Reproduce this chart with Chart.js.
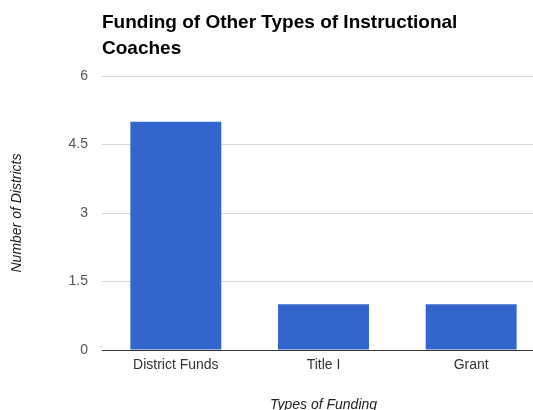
<!DOCTYPE html>
<html>
<head>
<meta charset="UTF-8">
<script src="https://cdn.jsdelivr.net/npm/chart.js@4.4.0/dist/chart.umd.min.js"></script>
<title>Funding of Other Types of Instructional Coaches</title>
<style>
  body { margin: 0; background: #fff; }
  #wrap { width: 533px; height: 410px; overflow: hidden; }
</style>
</head>
<body>
<div id="wrap">
  <canvas id="chart" width="545" height="414"></canvas>
</div>
<script>
  // data
  var categories = ["District Funds", "Title I", "Grant"];
  var districts = [5, 1, 1];
  var yTicks = [0, 1.5, 3, 4.5, 6];

  var font = "Arial, 'Liberation Sans', sans-serif";

  var ctx = document.getElementById('chart').getContext('2d');
  var chart = new Chart(ctx, {
    type: 'bar',
    data: {
      labels: categories,
      datasets: [{
        data: districts,
        backgroundColor: '#3366cc',
        borderWidth: 0,
        barPercentage: 0.616,
        categoryPercentage: 1
      }]
    },
    options: {
      responsive: false,
      animation: false,
      devicePixelRatio: 1,
      layout: { padding: 0 },
      plugins: {
        legend: { display: false },
        tooltip: { enabled: false },
        title: {
          display: true,
          text: ["Funding of Other Types of Instructional", "Coaches"],
          align: 'start',
          fullSize: false,
          color: '#000',
          font: { family: font, size: 19, weight: 'bold', lineHeight: '26px' },
          padding: { top: 10, bottom: 14 }
        }
      },
      scales: {
        x: {
          grid: { display: false, drawTicks: false },
          border: { display: true, color: '#333', width: 1 },
          ticks: { color: '#333', font: { family: font, size: 14 }, padding: 7 },
          title: {
            display: true,
            text: 'Types of Funding',
            color: '#222',
            font: { family: font, size: 14, style: 'italic' },
            padding: { top: 0, bottom: 0 }
          },
          afterFit: function (s) { s.height = 64; }
        },
        y: {
          min: 0,
          max: 6,
          afterBuildTicks: function (s) {
            s.ticks = yTicks.map(function (v) { return { value: v }; });
          },
          grid: {
            drawTicks: false,
            color: function (c) { return c.tick && c.tick.value === 0 ? '#333' : '#d6d6d6'; }
          },
          border: { display: false },
          ticks: { color: '#555', font: { family: font, size: 14 }, padding: 14 },
          title: {
            display: true,
            text: 'Number of Districts',
            color: '#222',
            font: { family: font, size: 14, style: 'italic' },
            padding: { top: 9, bottom: 0 }
          },
          afterFit: function (s) { s.width = 102; }
        }
      }
    }
  });
</script>
</body>
</html>
